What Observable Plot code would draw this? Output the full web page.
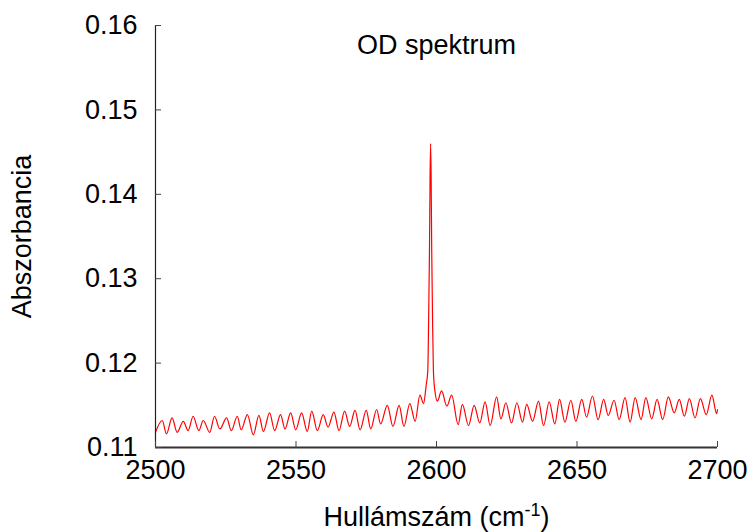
<!DOCTYPE html>
<html><head><meta charset="utf-8">
<script src="https://cdn.jsdelivr.net/npm/d3@7"></script>
<script src="https://cdn.jsdelivr.net/npm/@observablehq/plot@0.6"></script>
<style>body{margin:0;background:#fff} #chart svg{font-family:"Liberation Sans",Arial,sans-serif}</style>
</head><body><div id="chart"></div>
<script>
const wavenumber = [2500.0,2502.4,2503.9,2505.9,2507.7,2509.9,2511.6,2513.4,2515.4,2517.0,2519.3,2521.0,2522.9,2525.3,2527.0,2529.1,2530.5,2532.7,2534.8,2536.8,2538.4,2540.6,2542.4,2544.5,2546.1,2548.1,2549.9,2552.0,2554.0,2555.6,2557.6,2559.7,2561.4,2563.5,2565.3,2567.3,2569.1,2571.0,2572.8,2575.0,2576.6,2578.7,2580.1,2582.5,2584.5,2586.7,2588.4,2590.5,2592.4,2594.1,2595.4,
2596.3,2596.9,2597.2,2597.5,2597.7,2597.9,2598.1,2598.3,2598.6,2598.9,2599.4,2600.3,
2601.8,2603.7,2605.4,2607.7,2609.2,2611.4,2613.4,2615.4,2617.3,2619.1,2621.4,2622.9,2624.7,2626.7,2628.6,2630.6,2632.1,2634.2,2636.3,2638.1,2640.1,2642.1,2643.8,2645.7,2647.8,2649.6,2651.7,2653.4,2655.5,2657.5,2659.5,2661.1,2663.2,2665.0,2667.1,2668.9,2670.7,2672.8,2674.5,2676.6,2678.5,2680.5,2682.5,2684.6,2686.4,2688.2,2690.0,2692.0,2693.9,2696.0,2698.0,2699.7,2700.0];
const absorbance = [0.1118,0.1132,0.1116,0.1135,0.1118,0.1131,0.1120,0.1137,0.1120,0.1132,0.1118,0.1137,0.1122,0.1135,0.1120,0.1137,0.1121,0.1139,0.1115,0.1138,0.1119,0.1141,0.1120,0.1139,0.1122,0.1141,0.1121,0.1141,0.1119,0.1143,0.1120,0.1139,0.1124,0.1142,0.1120,0.1143,0.1125,0.1144,0.1121,0.1144,0.1122,0.1145,0.1128,0.1150,0.1125,0.1150,0.1125,0.1152,0.1131,0.1162,0.1152,
0.1173,0.1191,0.1250,0.1333,0.1416,0.1460,0.1416,0.1333,0.1250,0.1191,0.1168,0.1155,
0.1167,0.1149,0.1162,0.1127,0.1151,0.1126,0.1150,0.1129,0.1154,0.1126,0.1160,0.1134,0.1153,0.1129,0.1153,0.1130,0.1151,0.1131,0.1155,0.1126,0.1154,0.1128,0.1157,0.1130,0.1156,0.1131,0.1157,0.1136,0.1161,0.1133,0.1157,0.1138,0.1156,0.1133,0.1159,0.1130,0.1159,0.1133,0.1159,0.1134,0.1157,0.1133,0.1160,0.1141,0.1157,0.1137,0.1158,0.1135,0.1158,0.1139,0.1162,0.1140,0.1145];
const xTicks = [2500, 2550, 2600, 2650, 2700];
const yTicks = [0.11, 0.12, 0.13, 0.14, 0.15, 0.16];
const title = "OD spektrum";
const yLabel = "Abszorbancia";
const xLabel = "Hullámszám (cm";
const xLabelSup = "-1";
const xLabelEnd = ")";

const data = wavenumber.map((x, i) => ({x, y: absorbance[i]}));
const font = "Liberation Sans, Arial, sans-serif";
const fs = 27;

const chart = Plot.plot({
  width: 754, height: 532,
  marginLeft: 155, marginRight: 37, marginTop: 25, marginBottom: 85,
  style: {fontFamily: font, fontSize: fs + "px", background: "white", color: "black", overflow: "visible"},
  x: {domain: [2500, 2700]},
  y: {domain: [0.11, 0.16]},
  marks: [
    Plot.line(data, {x: "x", y: "y", stroke: "red", strokeWidth: 1.2, curve: "monotone-x"}),
    Plot.ruleX([xTicks[0]], {stroke: "#222", strokeWidth: 1.2}),
    Plot.ruleY([yTicks[0]], {stroke: "#333", strokeWidth: 2}),
    Plot.axisY({ticks: yTicks, tickFormat: d => d.toFixed(2), tickSize: -6, tickPadding: 24, label: null, stroke: "#444", fill: "black", fontSize: fs}),
    Plot.axisX({ticks: xTicks, tickFormat: d => String(d), tickSize: -6, tickPadding: 18, label: null, stroke: "#444", fill: "black", fontSize: fs}),
    Plot.text([title], {frameAnchor: "top", dy: 20, lineAnchor: "middle", textAnchor: "middle", fontSize: fs, fill: "black"}),
    Plot.text([yLabel], {frameAnchor: "left", dx: -133, rotate: -90, textAnchor: "middle", lineAnchor: "middle", fontSize: fs, fill: "black"}),
    Plot.text([xLabel], {frameAnchor: "bottom", dy: 70, lineAnchor: "middle", textAnchor: "middle", fontSize: fs, fill: "black", className: "xlab"})
  ]
});
document.getElementById("chart").appendChild(chart);
// add superscript to the x label
d3.select(chart).selectAll(".xlab text").each(function() {
  const t = d3.select(this);
  t.text(null);
  t.append("tspan").text(xLabel);
  t.append("tspan").attr("baseline-shift", "super").attr("font-size", 18).text(xLabelSup);
  t.append("tspan").text(xLabelEnd);
});
</script></body></html>
